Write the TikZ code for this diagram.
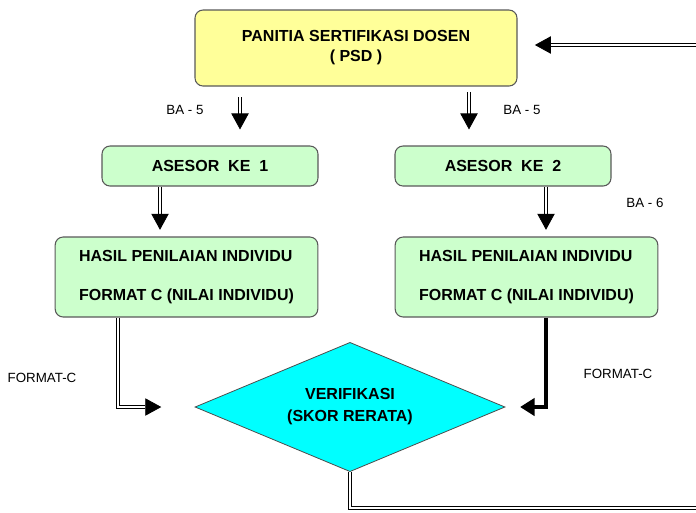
\documentclass[tikz,border=0pt]{standalone}
\usepackage{fontspec}
\setmainfont{Liberation Sans}
\usetikzlibrary{shapes.geometric}
\usetikzlibrary{arrows.meta}
\usetikzlibrary{positioning}

\definecolor{psdyellow}{HTML}{FFFF99}
\definecolor{boxgreen}{HTML}{CCFFCC}
\definecolor{verifcyan}{HTML}{00FFFF}

\begin{document}
\begin{tikzpicture} [
  x=0.75pt, y=-0.75pt,
  every node/.style={font=\fontsize{10}{12}\selectfont},
  rbox/.style={draw=black!65, line width=0.8pt, rounded corners=6pt,
    font=\fontsize{12}{14}\selectfont\bfseries},
  psdbox/.style={rbox, fill=psdyellow, align=center,
    minimum width=241.5pt, minimum height=57pt},
  asrbox/.style={rbox, fill=boxgreen, minimum width=162pt, minimum height=30pt},
  hslbox/.style={rbox, fill=boxgreen, align=left,
    minimum width=197pt, minimum height=60pt},
  verif/.style={diamond, draw=black!70, line width=0.6pt, fill=verifcyan,
    shape aspect=2.4, inner sep=0pt, minimum width=232.5pt, minimum height=97pt,
    align=center, font=\fontsize{12}{16.5}\selectfont\bfseries},
  dbl/.style={draw=black, line width=0.6pt, double=white, double distance=1.6pt,
    -{Triangle[length=12pt, width=13pt]}},
  thk/.style={draw=black, line width=3pt, -{Triangle[length=11pt, width=13pt]}},
  lbl/.style={inner sep=0pt}
  ]
  \useasboundingbox (0,0) rectangle (696,512);

  % boxes
  \node (psd) [psdbox] at (356,48) {PANITIA SERTIFIKASI DOSEN\\[1pt]( PSD )};
  \node (as1) [asrbox] at (210,166) {ASESOR\ \ KE\ \ 1};
  \node (as2) [asrbox] at (503,166) {ASESOR\ \ KE\ \ 2};
  \node (hs1) [hslbox] at (186.5,277) {HASIL PENILAIAN INDIVIDU\\[15pt]FORMAT C (NILAI INDIVIDU)};
  \node (hs2) [hslbox] at (526.5,277) {HASIL PENILAIAN INDIVIDU\\[15pt]FORMAT C (NILAI INDIVIDU)};
  \node (vr) [verif] at (350,407) {VERIFIKASI\\(SKOR RERATA)};

  % free ends on the right edge
  \coordinate (back) at (696,45);
  \coordinate (ret) at (696,508);

  % connectors
  \draw [dbl, -, shorten >=0pt] (vr.south) |- (ret);
  \draw [dbl, shorten >=13pt] (back) -- (back -| psd.east);
  \draw [dbl, shorten <=8pt, shorten >=12pt] ([xshift=-87pt]psd.south) -- ([xshift=22.5pt]as1.north);
  \draw [dbl, shorten <=4pt, shorten >=12pt] ([xshift=84.75pt]psd.south) -- ([xshift=-25.5pt]as2.north);
  \draw [dbl, shorten >=5pt] ([xshift=-37.5pt]as1.south) -- ([xshift=-37.5pt]as1.south |- hs1.north);
  \draw [dbl, shorten >=5pt] ([xshift=32.25pt]as2.south) -- ([xshift=32.25pt]as2.south |- hs2.north);
  \draw [dbl, shorten >=25pt] ([xshift=-51.4pt]hs1.south) |- (vr.west);
  \draw [thk, shorten >=11pt] ([xshift=14.6pt]hs2.south) |- (vr.east);

  % labels
  \node (ba1) [lbl] at (185,110) {BA - 5};
  \node (ba2) [lbl] at (522,110) {BA - 5};
  \node (ba3) [lbl] at (645,203) {BA - 6};
  \node (fc1) [lbl] at (42,378) {FORMAT-C};
  \node (fc2) [lbl] at (618,374) {FORMAT-C};
\end{tikzpicture}
\end{document}
